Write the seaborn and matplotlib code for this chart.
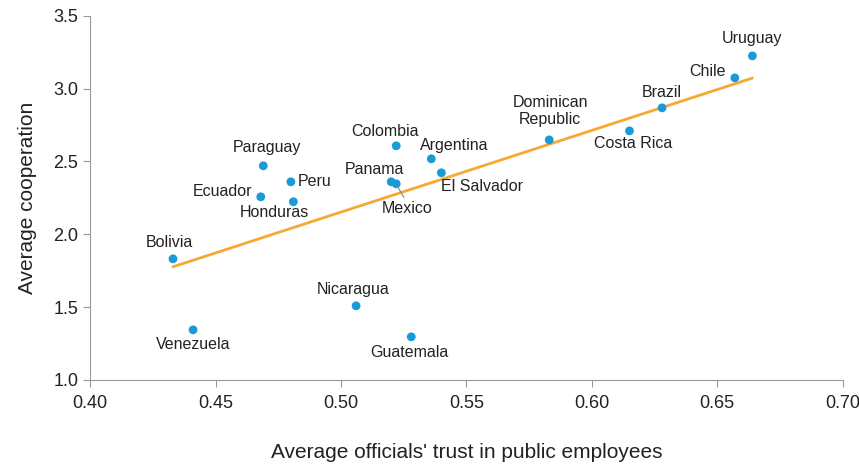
import numpy as np
import pandas as pd
import matplotlib
matplotlib.use("Agg")
import matplotlib.pyplot as plt
import seaborn as sns

# ========== DATOS ==========
countries = ["Uruguay", "Chile", "Brazil", "Dominican\nRepublic", "Costa Rica",
             "Colombia", "Argentina", "El Salvador", "Panama", "Mexico",
             "Paraguay", "Peru", "Ecuador", "Honduras", "Bolivia",
             "Venezuela", "Nicaragua", "Guatemala"]
trust = [0.664, 0.657, 0.628, 0.583, 0.615,
         0.522, 0.536, 0.540, 0.520, 0.522,
         0.469, 0.480, 0.468, 0.481, 0.433,
         0.441, 0.506, 0.528]
cooperation = [3.225, 3.074, 2.868, 2.648, 2.710,
               2.607, 2.518, 2.422, 2.360, 2.346,
               2.470, 2.360, 2.257, 2.223, 1.831,
               1.343, 1.508, 1.295]

df = pd.DataFrame({"country": countries, "trust": trust, "cooperation": cooperation})

# desplazamientos de etiquetas (pixeles) y alineacion
label_pos = {
    "Uruguay": (0, 17, "center"),
    "Chile": (-9, 6, "right"),
    "Brazil": (0, 15, "center"),
    "Dominican\nRepublic": (1, 29, "center"),
    "Costa Rica": (4, -13, "center"),
    "Colombia": (-11, 14, "center"),
    "Argentina": (23, 13, "center"),
    "El Salvador": (0, -14, "left"),
    "Panama": (-17, 12, "center"),
    "Mexico": (11, -25, "center"),
    "Paraguay": (4, 18, "center"),
    "Peru": (7, 0, "left"),
    "Ecuador": (-9, 5, "right"),
    "Honduras": (-19, -11, "center"),
    "Bolivia": (-4, 16, "center"),
    "Venezuela": (0, -15, "center"),
    "Nicaragua": (-3, 16, "center"),
    "Guatemala": (-2, -16, "center"),
}

# ========== GRAFICA ==========
sns.set_style("white")
plt.rcParams["font.family"] = ["Liberation Sans", "DejaVu Sans"]

fig, ax = plt.subplots(figsize=(8.59, 4.66), dpi=100)
fig.subplots_adjust(left=0.105, right=0.981, top=0.966, bottom=0.185)

sns.regplot(data=df, x="trust", y="cooperation", ax=ax, ci=None, truncate=True,
            scatter=False, line_kws={"color": "#F7A833", "lw": 2})
sns.scatterplot(data=df, x="trust", y="cooperation", ax=ax, color="#1A9AD6",
                s=40, edgecolor="none", zorder=3)

for _, r in df.iterrows():
    dx, dy, ha = label_pos[r["country"]]
    if r["country"] == "Mexico":
        ax.annotate("", xy=(r["trust"], r["cooperation"]), xytext=(dx - 2, dy + 9),
                    textcoords="offset pixels",
                    arrowprops=dict(arrowstyle="-", color="#888888", lw=0.8))
    ax.annotate(r["country"], (r["trust"], r["cooperation"]), xytext=(dx, dy),
                textcoords="offset pixels", ha=ha, va="center", fontsize=11.5,
                color="#222222", linespacing=1.15)

ax.set_xlim(0.40, 0.70)
ax.set_ylim(1.0, 3.5)
ax.set_xticks(np.arange(0.40, 0.701, 0.05))
ax.set_yticks(np.arange(1.0, 3.51, 0.5))
ax.set_xticklabels([f"{v:.2f}" for v in np.arange(0.40, 0.701, 0.05)])
ax.set_yticklabels([f"{v:.1f}" for v in np.arange(1.0, 3.51, 0.5)])
ax.tick_params(axis="both", direction="out", length=5, width=0.8, color="#999999",
               labelsize=13, labelcolor="#222222", left=True, bottom=True)
ax.tick_params(axis="x", pad=6)
ax.set_xlabel("Average officials' trust in public employees", fontsize=15,
              color="#222222", labelpad=22)
ax.set_ylabel("Average cooperation", fontsize=15, color="#222222", labelpad=12)
for s in ["top", "right"]:
    ax.spines[s].set_visible(False)
for s in ["left", "bottom"]:
    ax.spines[s].set_color("#999999")
    ax.spines[s].set_linewidth(0.8)

plt.savefig("out.png", dpi=100)
